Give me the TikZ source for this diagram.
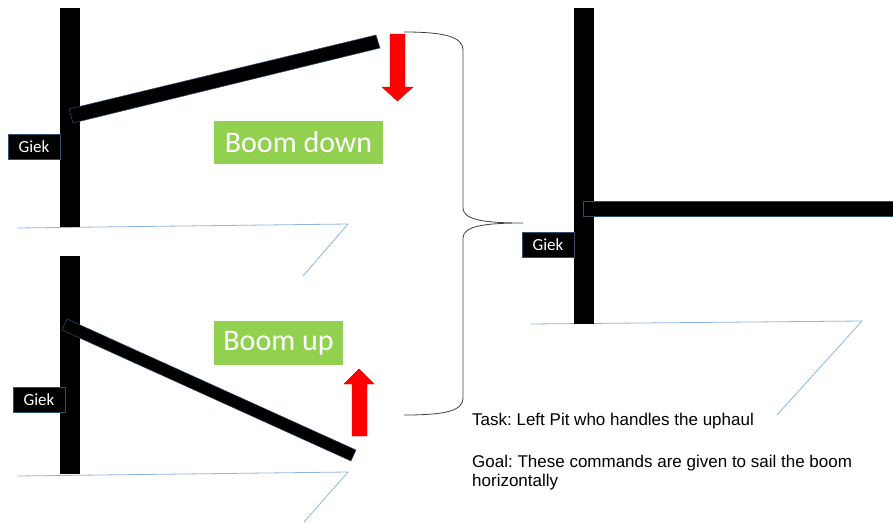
\documentclass[tikz,border=0pt]{standalone}
\usepackage{fontspec}
\setmainfont{Liberation Sans}
\newfontfamily\calib{Carlito}
\frenchspacing
\definecolor{boomgreen}{HTML}{92D050}
\definecolor{deckblue}{HTML}{8DB4E2}
\definecolor{edgeblue}{HTML}{2F4F6F}
\definecolor{bracegray}{HTML}{404040}
\tikzset{
  mastbar/.style={fill=black, draw=black, line width=0.4pt},
  boombar/.style={fill=black, draw=edgeblue, line width=0.5pt},
  deck/.style={draw=deckblue, line width=0.8pt},
  giekbox/.style={fill=black, draw=edgeblue, line width=0.3pt, text=white,
    font=\calib\fontsize{17}{17}\selectfont, inner sep=0pt,
    minimum width=52pt, minimum height=25pt},
  cmdbox/.style={fill=boomgreen, text=white, inner sep=0pt,
    font=\calib\fontsize{30}{30}\selectfont},
  redarrow/.style={fill=red, draw=red!80!black, line width=0.4pt},
  note/.style={font=\fontsize{17}{19.5}\selectfont, inner sep=0pt}
}
\begin{document}
\begin{tikzpicture}[x=1pt, y=-1pt]
\useasboundingbox (0,0) rectangle (893,522);

% --- boom down (top left) ---
\draw[deck] (17,228) -- (348,224) -- (303,276);
\filldraw[mastbar] (60,8) rectangle (79,226);
\filldraw[boombar] (69,109) -- (73,123) -- (380,48) -- (376,35) -- cycle;
\node[giekbox] (giekA) at (34,146.5) {Giek};
\node[cmdbox, minimum width=169pt, minimum height=43pt] (down) at (298.5,142.5) {Boom down};
\filldraw[redarrow] (390,34) -- (405,34) -- (405,87) -- (413,87) -- (397.5,101)
  -- (382,87) -- (390,87) -- cycle;

% --- boom up (bottom left) ---
\draw[deck] (17,476) -- (348,472) -- (304,522);
\filldraw[mastbar] (60,256) rectangle (79,473);
\filldraw[boombar] (67,319) -- (62,330) -- (351,461) -- (356,450) -- cycle;
\node[giekbox] (giekB) at (39,399.5) {Giek};
\node[cmdbox, minimum width=129pt, minimum height=44pt] (up) at (278.5,343) {Boom up};
\filldraw[redarrow] (352,436) -- (367,436) -- (367,384) -- (374,384) -- (359,369)
  -- (344,384) -- (352,384) -- cycle;

% --- curly brace joining both cases ---
\coordinate (braceTop) at (404,32);
\coordinate (braceTip) at (523,223);
\coordinate (braceBot) at (404,415);
\draw[bracegray, line width=0.8pt]
  (braceTop) .. controls (445,32) and (463,37) .. (463,50)
  -- (463,208) .. controls (463,220) and (485,223) .. (braceTip)
  .. controls (485,223) and (463,226) .. (463,238)
  -- (463,398) .. controls (463,411) and (445,415) .. (braceBot);

% --- horizontal boom (right) ---
\draw[deck] (530,324) -- (862,321) -- (777,415);
\filldraw[mastbar] (574,8) rectangle (593,323);
\filldraw[boombar] (583,201) rectangle (895,216);
\node[giekbox] (giekC) at (548,244.5) {Giek};

% --- notes ---
\node[note, anchor=base west] (task) at (472,425) {Task: Left Pit who handles the uphaul};
\node[note, anchor=base west] (goal) at (472,467)
  {\vtop{\hbox{Goal: These commands are given to sail the boom}\hbox{horizontally}}};
\end{tikzpicture}
\end{document}
